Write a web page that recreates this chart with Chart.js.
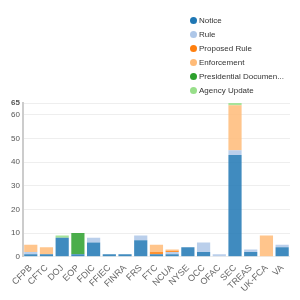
<!DOCTYPE html>
<html>
<head>
<meta charset="utf-8">
<script src="https://cdn.jsdelivr.net/npm/chart.js@4"></script>
<style>
  html, body { margin: 0; padding: 0; background: #fff; }
  #wrap { position: relative; width: 300px; height: 300px; }
  #legend { position: absolute; left: 190px; top: 14px; font: 8px "Liberation Sans", Arial, sans-serif; color: #333; }
  #legend div { height: 14px; line-height: 14px; white-space: nowrap; }
  #legend span { display: inline-block; width: 7px; height: 7px; border-radius: 50%; margin-right: 2px; vertical-align: -1px; }
</style>
</head>
<body>
<div id="wrap">
  <canvas id="chart" width="300" height="300"></canvas>
  <div id="legend"></div>
</div>
<script>
// agencies on the x axis
const categories = ["CFPB", "CFTC", "DOJ", "EOP", "FDIC", "FFIEC", "FINRA", "FRS", "FTC",
  "NCUA", "NYSE", "OCC", "OFAC", "SEC", "TREAS", "UK-FCA", "VA"];

// stacked series, bottom to top
const notice       = [1, 1, 8, 1, 6, 1, 1, 7, 1, 1,   4, 2, 0, 43, 2, 0, 4];
const rule         = [1, 0, 0, 0, 2, 0, 0, 2, 0, 1,   0, 4, 1, 2,  1, 0, 1];
const proposedRule = [0, 0, 0, 0, 0, 0, 0, 0, 1, 0.5, 0, 0, 0, 0,  0, 0, 0];
const enforcement  = [3, 3, 0, 0, 0, 0, 0, 0, 3, 0.5, 0, 0, 0, 19, 0, 9, 0];
const presidential = [0, 0, 0, 9, 0, 0, 0, 0, 0, 0,   0, 0, 0, 0,  0, 0, 0];
const agencyUpdate = [0, 0, 1, 0, 0, 0, 0, 0, 0, 0,   0, 0, 0, 1,  0, 0, 0];

const yTicks = [0, 10, 20, 30, 40, 50, 60, 65];

const series = [
  { label: "Notice", data: notice, color: "#1f77b4" },
  { label: "Rule", data: rule, color: "#aec7e8" },
  { label: "Proposed Rule", data: proposedRule, color: "#ff7f0e" },
  { label: "Enforcement", data: enforcement, color: "#ffbb78" },
  { label: "Presidential Documents", data: presidential, color: "#2ca02c" },
  { label: "Agency Update", data: agencyUpdate, color: "#98df8a" },
];

// fade a hex colour a little, like the svg fill-opacity
function fade(hex, a) {
  const n = parseInt(hex.slice(1), 16);
  return `rgba(${n >> 16}, ${(n >> 8) & 255}, ${n & 255}, ${a})`;
}

// html legend, one item per row, long names cut like nvd3 does
const legend = document.getElementById("legend");
series.forEach((s) => {
  const name = s.label.length > 20 ? s.label.slice(0, 20) + "..." : s.label;
  const row = document.createElement("div");
  row.innerHTML = `<span style="background:${s.color}"></span>${name}`;
  legend.appendChild(row);
});

const ctx = document.getElementById("chart").getContext("2d");
new Chart(ctx, {
  type: "bar",
  data: {
    labels: categories,
    datasets: series.map((s) => ({
      label: s.label,
      data: s.data,
      backgroundColor: fade(s.color, 0.85),
      borderWidth: 0,
      barPercentage: 0.84,
      categoryPercentage: 1,
    })),
  },
  options: {
    responsive: false,
    animation: false,
    layout: { padding: { top: 103, left: 8, right: 10, bottom: 0 } },
    plugins: {
      legend: { display: false },
      tooltip: { enabled: false },
    },
    scales: {
      x: {
        stacked: true,
        grid: { display: false, drawTicks: false },
        border: { display: false },
        ticks: {
          minRotation: 45,
          maxRotation: 45,
          autoSkip: false,
          padding: 6,
          color: "#666",
          font: { family: "Liberation Sans", size: 9 },
        },
      },
      y: {
        stacked: true,
        min: 0,
        max: 65,
        afterBuildTicks: (axis) => {
          axis.ticks = yTicks.map((v) => ({ value: v }));
        },
        grid: { color: "#eee", drawTicks: false },
        border: { color: "#ccc", width: 2 },
        ticks: {
          padding: 3,
          color: "#555",
          font: (c) => ({ family: "Liberation Sans", size: 8, weight: c.tick && c.tick.value === 65 ? "bold" : "normal" }),
        },
      },
    },
  },
});
</script>
</body>
</html>
